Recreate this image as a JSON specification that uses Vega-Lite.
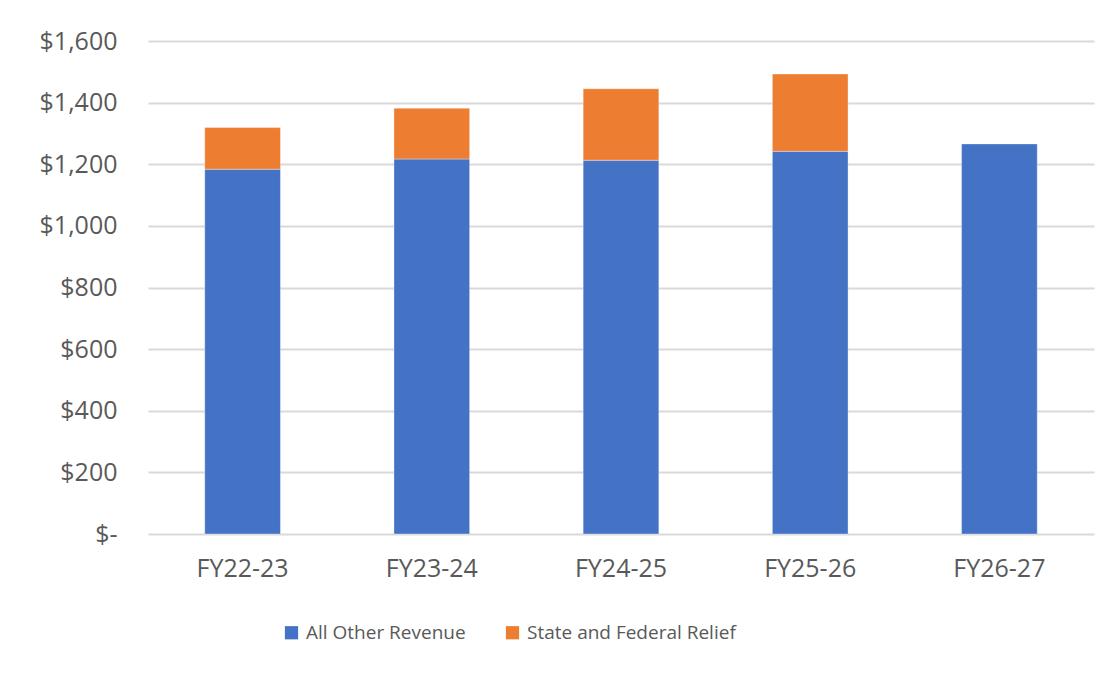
{
  "$schema": "https://vega.github.io/schema/vega-lite/v6.json",
  "autosize": "none",
  "width": 946,
  "height": 493,
  "padding": {"left": 148, "top": 41, "right": 17, "bottom": 139},
  "background": "#ffffff",
  "data": {
    "values": [
      {"year": "FY22-23", "series": "All Other Revenue", "value": 1184},
      {"year": "FY22-23", "series": "State and Federal Relief", "value": 135},
      {"year": "FY23-24", "series": "All Other Revenue", "value": 1217},
      {"year": "FY23-24", "series": "State and Federal Relief", "value": 165},
      {"year": "FY24-25", "series": "All Other Revenue", "value": 1213},
      {"year": "FY24-25", "series": "State and Federal Relief", "value": 232},
      {"year": "FY25-26", "series": "All Other Revenue", "value": 1242},
      {"year": "FY25-26", "series": "State and Federal Relief", "value": 251},
      {"year": "FY26-27", "series": "All Other Revenue", "value": 1266}
    ]
  },
  "mark": {"type": "bar", "stroke": "#ffffff", "strokeWidth": 0.6, "strokeOpacity": 0.6},
  "encoding": {
    "x": {
      "field": "year", "type": "nominal", "title": null,
      "scale": {"paddingInner": 0.6, "paddingOuter": 0.3},
      "axis": {"labelAngle": 0, "domain": false, "ticks": false, "labelPadding": 22, "labelFontSize": 25, "labelFont": "Open Sans", "labelColor": "#595959"}
    },
    "y": {
      "field": "value", "type": "quantitative", "title": null, "stack": "zero",
      "scale": {"domain": [0, 1600], "nice": false},
      "axis": {
        "values": [0, 200, 400, 600, 800, 1000, 1200, 1400, 1600],
        "domain": false, "ticks": false, "labelPadding": 31,
        "labelFontSize": 25, "labelFont": "Open Sans", "labelColor": "#595959",
        "gridColor": "#d9d9d9", "gridWidth": 2,
        "labelExpr": "datum.value == 0 ? '$-\u00a0\u00a0\u00a0' : '$' + format(datum.value, ',')"
      }
    },
    "color": {
      "field": "series", "type": "nominal", "title": null,
      "scale": {"domain": ["All Other Revenue", "State and Federal Relief"], "range": ["#4472C4", "#ED7D31"]},
      "legend": {
        "orient": "none", "direction": "horizontal", "legendX": 134, "legendY": 582,
        "symbolType": "square", "symbolSize": 175, "symbolStrokeWidth": 0,
        "labelFontSize": 19, "labelFont": "Open Sans", "labelColor": "#595959",
        "labelLimit": 0, "columnPadding": 37, "labelOffset": 5
      }
    },
    "order": {"field": "series", "sort": "ascending"}
  },
  "config": {"view": {"stroke": null}}
}
